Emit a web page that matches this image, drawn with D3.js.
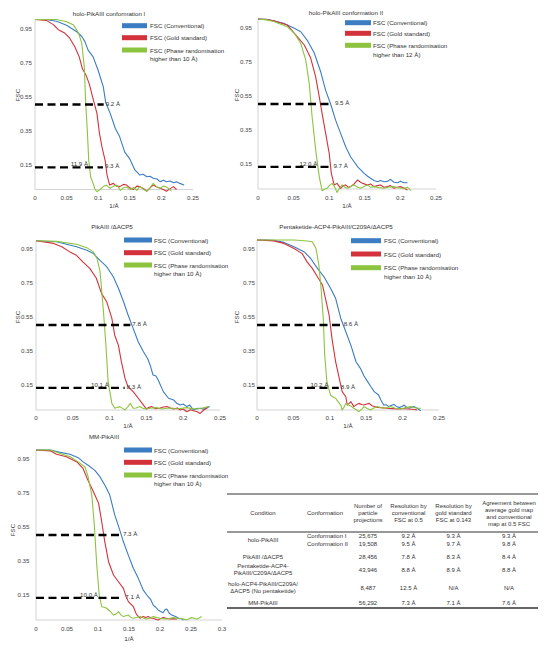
<!DOCTYPE html>
<html><head><meta charset="utf-8">
<script src="https://cdn.jsdelivr.net/npm/d3@7"></script>
<style>
html,body{margin:0;padding:0;background:#fff;}
svg text{font-family:"Liberation Sans",Arial,Helvetica,sans-serif;}
</style></head>
<body><svg id="c" width="548" height="650"></svg>
<script>
// ---------- DATA ----------
const panelTitles = ["holo-PikAIII conformation I","holo-PikAIII conformation II","PikAIII /ΔACP5","Pentaketide-ACP4-PikAIII/C209A/ΔACP5","MM-PikAIII"];
const seriesNames = ["FSC (Conventional)","FSC (Gold standard)","FSC (Phase randomisation"];
const phaseLimit = ["higher than 10 Å)","higher than 12 Å)","higher than 10 Å)","higher than 10 Å)","higher than 10 Å)"];
const yTicks = [0.15,0.35,0.55,0.75,0.95];
const xTicksA = [0,0.05,0.1,0.15,0.2,0.25];
const xTicksB = [0,0.05,0.1,0.15,0.2,0.25,0.3];
const thresholds = [0.5,0.13];
const res05 = [9.2,9.5,7.8,8.6,7.3];
const res0143 = [9.3,9.7,8.3,8.9,7.1];
const resPhase = [11.9,12.0,10.1,10.2,10.0];

const c1Conv=[[0,1],[0.017,1],[0.034,0.99],[0.05,0.966],[0.066,0.928],[0.074,0.9],[0.079,0.87],[0.084,0.82],[0.092,0.78],[0.1,0.7],[0.108,0.605],[0.112,0.51],[0.119,0.448],[0.127,0.36],[0.134,0.31],[0.142,0.22],[0.15,0.18],[0.158,0.115],[0.166,0.085],[0.171,0.09],[0.177,0.075],[0.182,0.078],[0.187,0.066],[0.193,0.062],[0.198,0.046],[0.203,0.055],[0.208,0.046],[0.214,0.05],[0.219,0.04],[0.224,0.045],[0.229,0.036],[0.236,0.026]];
const c1Gold=[[0,1],[0.018,0.995],[0.029,0.97],[0.037,0.94],[0.047,0.92],[0.055,0.89],[0.063,0.84],[0.07,0.78],[0.075,0.71],[0.081,0.67],[0.086,0.62],[0.091,0.546],[0.098,0.448],[0.102,0.33],[0.106,0.25],[0.111,0.17],[0.114,0.085],[0.118,0.027],[0.124,0.036],[0.129,0.02],[0.134,0.017],[0.14,0.03],[0.145,0.026],[0.15,0.01],[0.156,0],[0.161,0.02],[0.166,0.017],[0.172,0.005],[0.177,-0.01],[0.182,0.01],[0.187,0.026],[0.193,0.015],[0.198,0.007],[0.203,0],[0.208,-0.01],[0.214,0.005],[0.219,0.017],[0.224,0]];
const c1Phase=[[0,1],[0.034,1],[0.05,0.987],[0.061,0.967],[0.069,0.92],[0.074,0.86],[0.078,0.72],[0.08,0.527],[0.083,0.33],[0.085,0.174],[0.088,0.075],[0.092,0.036],[0.095,0],[0.098,-0.013],[0.103,0],[0.108,0.017],[0.113,0.026],[0.119,0.007],[0.124,0.02],[0.13,0.025],[0.135,-0.005],[0.14,0.01],[0.145,0.015],[0.151,0],[0.156,0.012],[0.161,-0.005],[0.166,0.017],[0.172,0],[0.177,-0.01],[0.182,0.01],[0.187,0.036],[0.193,0.015],[0.198,0.007],[0.203,0.02],[0.208,0.015],[0.216,-0.01]];

const c2Conv=[[0,1],[0.012,0.998],[0.022,0.99],[0.036,0.975],[0.051,0.945],[0.06,0.925],[0.069,0.876],[0.079,0.8],[0.088,0.69],[0.095,0.58],[0.102,0.5],[0.109,0.405],[0.116,0.327],[0.123,0.25],[0.13,0.19],[0.135,0.16],[0.14,0.13],[0.145,0.11],[0.149,0.092],[0.154,0.075],[0.158,0.063],[0.163,0.05],[0.168,0.043],[0.172,0.05],[0.177,0.043],[0.182,0.045],[0.186,0.057],[0.191,0.04],[0.196,0.037],[0.2,0.045],[0.205,0.037],[0.21,0.037]];
const c2Gold=[[0,1],[0.012,0.997],[0.022,0.99],[0.041,0.965],[0.055,0.896],[0.065,0.847],[0.074,0.77],[0.081,0.66],[0.086,0.543],[0.09,0.445],[0.095,0.327],[0.1,0.21],[0.103,0.092],[0.107,0.024],[0.111,0.033],[0.116,0.004],[0.12,0.02],[0.123,0.024],[0.127,0.01],[0.13,0.014],[0.135,0.03],[0.14,0.053],[0.144,0.04],[0.147,0.033],[0.154,0.024],[0.158,0.03],[0.163,0.014],[0.168,0.02],[0.172,0.024],[0.177,0.01],[0.182,0.014],[0.186,0.02],[0.191,0.004],[0.196,0.01],[0.2,0.014],[0.205,0.005],[0.21,-0.006]];
const c2Phase=[[0,1],[0.012,0.995],[0.022,0.985],[0.041,0.955],[0.051,0.916],[0.06,0.857],[0.067,0.76],[0.072,0.62],[0.076,0.425],[0.081,0.23],[0.086,0.073],[0.09,-0.01],[0.094,0],[0.097,0.004],[0.1,0.02],[0.104,0.033],[0.108,0.01],[0.111,-0.02],[0.114,0],[0.118,0.024],[0.122,0.01],[0.126,0.004],[0.13,0.015],[0.135,0.024],[0.14,0.01],[0.144,0.004],[0.149,0.015],[0.154,0.024],[0.158,0.01],[0.163,0.014],[0.17,0.008],[0.177,0.004],[0.184,0.012],[0.191,0.014],[0.198,0.006],[0.205,0.004],[0.21,0.01],[0.215,-0.01]];

const c3Conv=[[0,0.996],[0.028,0.99],[0.055,0.96],[0.069,0.94],[0.078,0.92],[0.087,0.88],[0.096,0.843],[0.105,0.784],[0.112,0.716],[0.119,0.637],[0.125,0.56],[0.132,0.48],[0.139,0.4],[0.146,0.343],[0.152,0.3],[0.155,0.265],[0.159,0.206],[0.163,0.2],[0.166,0.176],[0.173,0.108],[0.18,0.069],[0.187,0.059],[0.191,0.04],[0.196,0.029],[0.2,0.035],[0.205,0.02],[0.209,0.029],[0.214,0],[0.218,0.008],[0.223,0.01],[0.228,0.005],[0.232,0.014],[0.236,0.02]];
const c3Gold=[[0,0.996],[0.024,0.98],[0.035,0.96],[0.046,0.93],[0.055,0.91],[0.064,0.87],[0.073,0.833],[0.082,0.775],[0.089,0.686],[0.096,0.637],[0.103,0.54],[0.107,0.44],[0.112,0.38],[0.116,0.284],[0.121,0.186],[0.125,0.137],[0.132,0.108],[0.139,0.069],[0.146,0.029],[0.15,0.006],[0.153,0.015],[0.157,0.02],[0.162,0.008],[0.168,0.01],[0.173,0.018],[0.178,0.02],[0.183,0.01],[0.187,0.006],[0.192,0.012],[0.196,0],[0.2,0.006],[0.205,-0.01],[0.21,0.002],[0.214,-0.004],[0.219,-0.01],[0.223,-0.02],[0.228,0],[0.234,0.016]];
const c3Phase=[[0,0.996],[0.028,0.992],[0.055,0.975],[0.069,0.955],[0.078,0.93],[0.083,0.89],[0.087,0.814],[0.089,0.716],[0.092,0.56],[0.095,0.38],[0.098,0.167],[0.103,0.04],[0.107,0.01],[0.11,0.015],[0.114,0.02],[0.118,0.008],[0.121,0],[0.125,0.02],[0.128,0.04],[0.132,0.01],[0.136,0.012],[0.141,0.02],[0.145,0.01],[0.15,0.006],[0.157,0.012],[0.164,0.014],[0.171,0.006],[0.178,0.01],[0.185,0.012],[0.191,0.006],[0.198,0.01],[0.205,0.014],[0.212,0.008],[0.218,0.006],[0.226,0.012],[0.234,0.02]];

const c4Conv=[[0,1],[0.012,1],[0.023,0.998],[0.037,0.986],[0.051,0.96],[0.065,0.93],[0.074,0.89],[0.083,0.833],[0.092,0.784],[0.101,0.716],[0.108,0.657],[0.115,0.54],[0.122,0.46],[0.129,0.38],[0.136,0.284],[0.142,0.245],[0.147,0.2],[0.152,0.167],[0.156,0.14],[0.161,0.108],[0.167,0.088],[0.17,0.06],[0.174,0.029],[0.178,0.03],[0.181,0.02],[0.185,0.028],[0.188,0.033],[0.192,0.02],[0.195,0.014],[0.199,0.02],[0.202,0.029],[0.206,0.015],[0.209,0.01],[0.213,0.018],[0.216,0.02],[0.22,0.01],[0.225,-0.004]];
const c4Gold=[[0,1],[0.012,0.998],[0.023,0.995],[0.037,0.98],[0.051,0.95],[0.062,0.92],[0.069,0.87],[0.076,0.833],[0.083,0.784],[0.09,0.735],[0.094,0.657],[0.099,0.56],[0.103,0.42],[0.108,0.284],[0.113,0.186],[0.117,0.108],[0.122,0.078],[0.124,0.029],[0.127,0.04],[0.129,0.049],[0.133,0.02],[0.136,0.03],[0.14,0.039],[0.144,0.032],[0.147,0.029],[0.151,0.035],[0.154,0.039],[0.158,0.025],[0.161,0.02],[0.166,0.015],[0.17,0.014],[0.175,0.012],[0.179,0.01],[0.186,0.008],[0.193,0.006],[0.2,0.009],[0.207,0.006],[0.214,0.004],[0.22,0]];
const c4Phase=[[0,1],[0.023,1],[0.051,1],[0.069,0.994],[0.076,0.99],[0.081,0.95],[0.085,0.853],[0.088,0.716],[0.091,0.54],[0.093,0.324],[0.096,0.167],[0.101,0.088],[0.105,0.075],[0.108,0.069],[0.112,0.045],[0.115,0.029],[0.117,0],[0.12,0.02],[0.122,0.039],[0.126,0.029],[0.13,0.02],[0.133,0.01],[0.137,0],[0.14,-0.01],[0.144,0.005],[0.147,0.02],[0.151,0.01],[0.156,0],[0.16,0.01],[0.165,0.02],[0.17,0.015],[0.174,0.01],[0.179,0.015],[0.183,0.02],[0.19,0.01],[0.197,0.006],[0.204,0.014],[0.211,0.02],[0.218,0.012],[0.225,0.01]];

const c5Conv=[[0,1],[0.023,1],[0.039,0.986],[0.055,0.975],[0.068,0.955],[0.076,0.93],[0.084,0.91],[0.095,0.88],[0.103,0.843],[0.111,0.794],[0.119,0.735],[0.127,0.618],[0.135,0.53],[0.141,0.46],[0.149,0.38],[0.157,0.304],[0.165,0.245],[0.173,0.176],[0.181,0.137],[0.185,0.12],[0.189,0.088],[0.193,0.075],[0.197,0.059],[0.201,0.05],[0.205,0.043],[0.208,0.06],[0.211,0.065],[0.215,0.04],[0.219,0.029],[0.225,0.02],[0.23,0.01],[0.234,0.008],[0.238,0]];
const c5Gold=[[0,1],[0.023,0.995],[0.033,0.975],[0.049,0.96],[0.066,0.93],[0.076,0.89],[0.084,0.82],[0.09,0.775],[0.095,0.735],[0.101,0.686],[0.106,0.578],[0.111,0.46],[0.117,0.343],[0.125,0.265],[0.133,0.225],[0.141,0.186],[0.145,0.14],[0.149,0.108],[0.157,0.078],[0.162,0.033],[0.168,0.01],[0.173,0.02],[0.177,0.015],[0.181,0.02],[0.185,0.012],[0.189,0.01],[0.193,0.005],[0.197,0],[0.201,0.008],[0.205,0.014],[0.21,0.01],[0.216,0.006],[0.222,0.008],[0.227,0.004]];
const c5Phase=[[0,1],[0.023,1],[0.039,0.98],[0.055,0.96],[0.068,0.93],[0.079,0.9],[0.084,0.843],[0.09,0.735],[0.094,0.56],[0.098,0.324],[0.102,0.147],[0.106,0.078],[0.11,0.075],[0.114,0.069],[0.12,0.05],[0.125,0.029],[0.129,0.035],[0.133,0.049],[0.137,0.03],[0.141,0.02],[0.145,0.025],[0.149,0.029],[0.153,0.015],[0.157,0.01],[0.162,0.015],[0.168,0.02],[0.173,0.012],[0.178,0.006],[0.184,0.012],[0.189,0.02],[0.195,0.014],[0.2,0.01],[0.205,0.008],[0.211,0.006],[0.216,0.01],[0.222,0.014],[0.227,0.01],[0.232,0.01],[0.238,0.005],[0.243,0],[0.247,0.008],[0.251,0.014],[0.255,0.01],[0.259,0.006],[0.263,0.012],[0.267,0.02]];

const convSeries=[c1Conv,c2Conv,c3Conv,c4Conv,c5Conv];
const goldSeries=[c1Gold,c2Gold,c3Gold,c4Gold,c5Gold];
const phaseSeries=[c1Phase,c2Phase,c3Phase,c4Phase,c5Phase];

// table
const tableHeader=[["Condition"],["Conformation"],["Number of","particle","projections"],["Resolution by","conventional","FSC at 0.5"],["Resolution by","gold standard","FSC at 0.143"],["Agreement between","average gold map","and conventional","map at 0.5 FSC"]];
const tableConditions=[["holo-PikAIII"],["PikAIII /ΔACP5"],["Pentaketide-ACP4-","PikAIII/C209A/ΔACP5"],["holo-ACP4-PikAIII/C209A/","ΔACP5 (No pentaketide)"],["MM-PikAIII"]];
const tableConformations=[["Conformation I","Conformation II"],[],[],[],[]];
const tableParticles=[["25,675","19,508"],["28,456"],["43,946"],["8,487"],["56,292"]];
const tableResConv=[["9.2 Å","9.5 Å"],["7.8 Å"],["8.8 Å"],["12.5 Å"],["7.3 Å"]];
const tableResGold=[["9.3 Å","9.7 Å"],["8.3 Å"],["8.9 Å"],["N/A"],["7.1 Å"]];
const tableAgreement=[["9.3 Å","9.8 Å"],["8.4 Å"],["8.8 Å"],["N/A"],["7.6 Å"]];

// ---------- LAYOUT ----------
const colors=["#3b7cc2","#d3323a","#8cc43f"];
const FS=6.2;
const layout=[
 {x0:35,x1:193,xMax:0.25,yB:189.5,yT:19.5,tickR:32,fscX:17,fscY:95,xtY:197,xtitle:[114,205],title:[109,13],sw:[122,25],rows:[25.7,37.7,50],tx:150,l2:58.7},
 {x0:258,x1:436,xMax:0.25,yB:189,yT:19,tickR:252,fscX:236,fscY:95,xtY:197.5,xtitle:[347,205],title:[346,12],sw:[345,26],rows:[22.7,33.3,45.3],tx:373,l2:54.3},
 {x0:36,x1:220,xMax:0.25,yB:410,yT:240,tickR:33,fscX:17,fscY:317,xtY:417.5,xtitle:[128,425],title:[112,226],sw:[124,28],rows:[240,252.7,265],tx:154,l2:273.3},
 {x0:257,x1:439,xMax:0.25,yB:410,yT:240,tickR:255,fscX:236,fscY:317,xtY:417.5,xtitle:[348,425],title:[336,226],sw:[351,30],rows:[240.7,254,267.7],tx:384,l2:276},
 {x0:36,x1:222,xMax:0.3,yB:620,yT:450,tickR:29.5,fscX:12.5,fscY:530,xtY:628,xtitle:[129,638],title:[104,436],sw:[124,28],rows:[450,462.3,475],tx:154,l2:483.3}
];

const svg=d3.select("#c");
layout.forEach((L,i)=>{
  const g=svg.append("g");
  const x=d3.scaleLinear().domain([0,L.xMax]).range([L.x0,L.x1]);
  const y=d3.scaleLinear().domain([0,1]).range([L.yB,L.yT]);
  const xt = L.xMax>0.26?xTicksB:xTicksA;
  g.append("line").attr("x1",L.x0).attr("x2",L.x1).attr("y1",L.yB).attr("y2",L.yB).attr("stroke","#c8c8c8").attr("stroke-width",0.8);
  g.append("line").attr("x1",L.x0).attr("x2",L.x0).attr("y1",L.yB).attr("y2",L.yT).attr("stroke","#c8c8c8").attr("stroke-width",0.8);
  g.selectAll(".xt").data(xt).enter().append("text").attr("x",d=>x(d)).attr("y",L.xtY)
    .attr("text-anchor","middle").attr("dominant-baseline","central").attr("font-size",FS).attr("fill","#444")
    .text(d=>d===0?"0":String(d));
  g.selectAll(".yt").data(yTicks).enter().append("text").attr("x",L.tickR).attr("y",d=>y(d))
    .attr("text-anchor","end").attr("dominant-baseline","central").attr("font-size",FS).attr("fill","#444")
    .text(d=>d.toFixed(2));
  g.append("text").attr("transform",`translate(${L.fscX},${L.fscY}) rotate(-90)`).attr("text-anchor","middle")
    .attr("dominant-baseline","central").attr("font-size",FS).attr("fill","#333").text("FSC");
  g.append("text").attr("x",L.xtitle[0]).attr("y",L.xtitle[1]).attr("text-anchor","middle")
    .attr("dominant-baseline","central").attr("font-size",FS).attr("fill","#333").text("1/Å");
  g.append("text").attr("x",L.title[0]).attr("y",L.title[1]).attr("text-anchor","middle")
    .attr("dominant-baseline","central").attr("font-size",FS).attr("fill","#333").text(panelTitles[i]);
  const line=d3.line().x(d=>x(d[0])).y(d=>y(d[1]));
  [convSeries[i],goldSeries[i],phaseSeries[i]].forEach((s,k)=>{
    g.append("path").attr("d",line(s)).attr("fill","none").attr("stroke",colors[k]).attr("stroke-width",1.1).attr("stroke-linejoin","round");
  });
  const ends=[1/res05[i],1/res0143[i]];
  thresholds.forEach((t,k)=>{
    g.append("line").attr("x1",x(0)).attr("x2",x(ends[k])).attr("y1",y(t)).attr("y2",y(t))
      .attr("stroke","#000").attr("stroke-width",2.4).attr("stroke-dasharray","8,4.5");
  });
  g.append("text").attr("x",x(ends[0])+2).attr("y",y(thresholds[0])-1.5).attr("dominant-baseline","central")
    .attr("font-size",FS).attr("fill","#333").text(res05[i].toFixed(1)+" Å");
  g.append("text").attr("x",x(ends[1])+2).attr("y",y(thresholds[1])-1.5).attr("dominant-baseline","central")
    .attr("font-size",FS).attr("fill","#333").text(res0143[i].toFixed(1)+" Å");
  g.append("text").attr("x",x(1/resPhase[i])).attr("y",y(thresholds[1])-3.5).attr("text-anchor","end").attr("dominant-baseline","central")
    .attr("font-size",FS).attr("fill","#333").text(resPhase[i].toFixed(1)+" Å");
  seriesNames.forEach((n,k)=>{
    g.append("rect").attr("x",L.sw[0]).attr("y",L.rows[k]-2.5).attr("width",L.sw[1]).attr("height",5).attr("fill",colors[k]);
    g.append("text").attr("x",L.tx).attr("y",L.rows[k]).attr("dominant-baseline","central").attr("font-size",FS).attr("fill","#333").text(n);
  });
  g.append("text").attr("x",L.tx).attr("y",L.l2).attr("dominant-baseline","central").attr("font-size",FS).attr("fill","#333").text(phaseLimit[i]);
});

// ---------- TABLE ----------
const T={x1:227,x2:538,rTop:494,rMid:532,rBot:608,hdrMid:513,lh:7,cols:[263,307,368,408.5,453.5,509],
  rowY:[[536,544.3],[556.7],[569.5],[587.8],[603.3]],fs:6};
const tg=svg.append("g");
[[T.rTop,1],[T.rMid,1],[T.rBot,1.4]].forEach(([yy,w])=>tg.append("line").attr("x1",T.x1).attr("x2",T.x2).attr("y1",yy).attr("y2",yy).attr("stroke","#333").attr("stroke-width",w));
tableHeader.forEach((lines,c)=>{
  const y0=T.hdrMid-(lines.length-1)*T.lh/2;
  lines.forEach((s,j)=>tg.append("text").attr("x",T.cols[c]).attr("y",y0+j*T.lh).attr("text-anchor",c===1?"start":"middle")
     .attr("dominant-baseline","central").attr("font-size",T.fs).attr("fill","#333").text(s));
});
function rowText(arr,c,anchor){
  arr.forEach((vals,r)=>{
    const ys=T.rowY[r];
    const mid=d3.mean(ys);
    if(c===0){
      const y0=mid-(vals.length-1)*T.lh/2*0.95;
      vals.forEach((s,j)=>tg.append("text").attr("x",T.cols[c]).attr("y",y0+j*T.lh*0.95).attr("text-anchor","middle").attr("dominant-baseline","central").attr("font-size",T.fs).attr("fill","#333").text(s));
    } else {
      vals.forEach((s,j)=>{
        const yy = vals.length===ys.length? ys[j] : mid;
        tg.append("text").attr("x",T.cols[c]).attr("y",yy).attr("text-anchor",anchor).attr("dominant-baseline","central").attr("font-size",T.fs).attr("fill","#333").text(s);
      });
    }
  });
}
rowText(tableConditions,0,"middle");
rowText(tableConformations,1,"start");
rowText(tableParticles,2,"middle");
rowText(tableResConv,3,"middle");
rowText(tableResGold,4,"middle");
rowText(tableAgreement,5,"middle");
</script></body></html>
